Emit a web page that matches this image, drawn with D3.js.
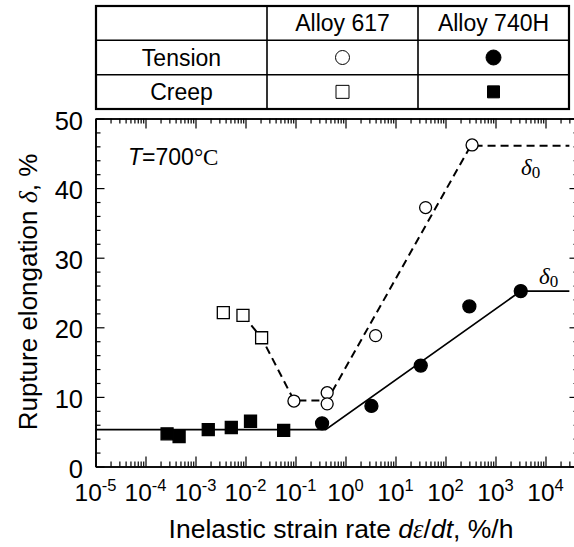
<!DOCTYPE html>
<html><head><meta charset="utf-8">
<script src="https://cdn.jsdelivr.net/npm/d3@7"></script>
<style>body{margin:0;background:#fff}svg{display:block}</style>
</head><body>
<svg id="c" width="574" height="547"></svg>
<script>
// ---- data ----
const xTickExps = [-5,-4,-3,-2,-1,0,1,2,3,4];
const yTicks = [0,10,20,30,40,50];
const creep617Rate = [3.6e-3, 8.9e-3, 2.1e-2];
const creep617Elong = [22.1, 21.7, 18.5];
const tension617Rate = [9.3e-2, 0.43, 0.43, 4.0, 40, 340];
const tension617Elong = [9.4, 10.6, 9.0, 18.8, 37.2, 46.2];
const creep740Rate = [2.7e-4, 4.7e-4, 1.8e-3, 5.2e-3, 1.26e-2, 5.8e-2];
const creep740Elong = [4.7, 4.3, 5.3, 5.6, 6.5, 5.2];
const tension740Rate = [0.34, 3.3, 32, 300, 3200];
const tension740Elong = [6.2, 8.7, 14.5, 23.0, 25.2];
const fit617Rate = [8.9e-3, 2.1e-2, 9.3e-2, 0.43, 320, 3e4];
const fit617Elong = [21.7, 18.5, 9.5, 9.5, 46.1, 46.1];
const fit740Rate = [1e-5, 0.4, 3200, 3e4];
const fit740Elong = [5.3, 5.3, 25.2, 25.2];
const tableCols = ["Alloy 617", "Alloy 740H"];
const tableRows = ["Tension", "Creep"];

const svg = d3.select("#c");
const SANS = "'Liberation Sans', Arial, sans-serif";
const SERIF = "'Liberation Serif', 'Times New Roman', serif";

const x = d3.scaleLog().domain([1e-5, Math.pow(10, 4.66)]).range([95.5, 578.5]);
const y = d3.scaleLinear().domain([0, 50]).range([466.5, 118.5]);

const xMinor = [];
for (let e = -5; e <= 4; e++) for (let m = 2; m <= 9; m++) xMinor.push(m * Math.pow(10, e));
const xMajor = xTickExps.map(e => Math.pow(10, e));
const yMinor = d3.range(0, 51, 2).filter(v => v % 10 !== 0);

const g = svg.append("g");
function styleAxis(sel){
  sel.selectAll("path.domain").attr("stroke","#000").attr("stroke-width",1.6);
  sel.selectAll(".tick line").attr("stroke","#000").attr("stroke-width",1.2);
  sel.selectAll(".tick text").remove();
}
g.append("g").attr("transform",`translate(0,${y(0)})`)
  .call(d3.axisBottom(x).tickValues(xMajor).tickSizeInner(-10).tickSizeOuter(0).tickFormat("")).call(styleAxis);
g.append("g").attr("transform",`translate(0,${y(0)})`)
  .call(d3.axisBottom(x).tickValues(xMinor).tickSizeInner(-5).tickSizeOuter(0).tickFormat("")).call(styleAxis);
g.append("g").attr("transform",`translate(0,${y(50)})`)
  .call(d3.axisTop(x).tickValues(xMajor).tickSizeInner(-10).tickSizeOuter(0).tickFormat("")).call(styleAxis);
g.append("g").attr("transform",`translate(0,${y(50)})`)
  .call(d3.axisTop(x).tickValues(xMinor).tickSizeInner(-5).tickSizeOuter(0).tickFormat("")).call(styleAxis);
g.append("g").attr("transform",`translate(${x.range()[0]},0)`)
  .call(d3.axisLeft(y).tickValues(yTicks).tickSizeInner(-9).tickSizeOuter(0).tickFormat("")).call(styleAxis);
g.append("g").attr("transform",`translate(${x.range()[0]},0)`)
  .call(d3.axisLeft(y).tickValues(yMinor).tickSizeInner(-5).tickSizeOuter(0).tickFormat("")).call(styleAxis);
g.append("g").attr("transform",`translate(${x.range()[1]},0)`)
  .call(d3.axisRight(y).tickValues(yTicks).tickSizeInner(-9).tickSizeOuter(0).tickFormat("")).call(styleAxis);
g.append("g").attr("transform",`translate(${x.range()[1]},0)`)
  .call(d3.axisRight(y).tickValues(yMinor).tickSizeInner(-5).tickSizeOuter(0).tickFormat("")).call(styleAxis);

// tick labels
const xl = svg.append("g").attr("font-family",SANS).attr("fill","#000");
xTickExps.forEach(e => {
  const t = xl.append("text").attr("x", x(Math.pow(10,e))).attr("y", y(0)+34)
    .attr("text-anchor","middle").attr("font-size",24.5);
  t.append("tspan").text("10");
  t.append("tspan").attr("dy",-10).attr("font-size",16.5).text(String(e));
});
yTicks.forEach(v => {
  xl.append("text").attr("x", 83).attr("y", y(v)+11).attr("text-anchor","end")
    .attr("font-size",25.5).text(v);
});

// axis titles
const xt = svg.append("text").attr("x", 341).attr("y", 538).attr("text-anchor","middle")
  .attr("font-family",SANS).attr("font-size",26.5);
xt.append("tspan").text("Inelastic strain rate ");
xt.append("tspan").attr("font-style","italic").text("d");
xt.append("tspan").attr("font-family",SERIF).attr("font-style","italic").text("ε");
xt.append("tspan").text("/");
xt.append("tspan").attr("font-style","italic").text("dt");
xt.append("tspan").text(", %/h");

const yt = svg.append("text").attr("transform","translate(37,292) rotate(-90)").attr("text-anchor","middle")
  .attr("font-family",SANS).attr("font-size",26);
yt.append("tspan").text("Rupture elongation ");
yt.append("tspan").attr("font-family",SERIF).attr("font-style","italic").text("δ");
yt.append("tspan").text(", %");

// T label
const tl = svg.append("text").attr("x",128).attr("y",165).attr("font-family",SANS).attr("font-size",23);
tl.append("tspan").attr("font-style","italic").text("T");
tl.append("tspan").text("=700");
tl.append("tspan").attr("font-family",SERIF).text("°C");

// fit lines
const line = d3.line().x(d => x(d[0])).y(d => y(d[1]));
svg.append("path").datum(d3.zip(fit617Rate, fit617Elong)).attr("d", line)
  .attr("fill","none").attr("stroke","#000").attr("stroke-width",2).attr("stroke-dasharray","8,5");
svg.append("path").datum(d3.zip(fit740Rate, fit740Elong)).attr("d", line)
  .attr("fill","none").attr("stroke","#000").attr("stroke-width",1.8);

// delta0 labels
function delta0(px, py){
  const t = svg.append("text").attr("x",px).attr("y",py).attr("font-family",SERIF).attr("font-size",23);
  t.append("tspan").attr("font-style","italic").text("δ");
  t.append("tspan").attr("dy",3).attr("font-size",17).text("0");
}
delta0(x(Math.pow(10,3.51)), y(41.9));
delta0(x(Math.pow(10,3.87)), y(26.2));

// markers
const sq = d3.symbol().type(d3.symbolSquare).size(144);
function pts(rates, elongs, shape, filled){
  const data = d3.zip(rates, elongs);
  const s = svg.append("g");
  if (shape === "circle") {
    s.selectAll("circle").data(data).join("circle")
      .attr("cx", d => x(d[0])).attr("cy", d => y(d[1])).attr("r", filled ? 6.5 : 6)
      .attr("fill", filled ? "#000" : "#fff").attr("stroke","#000").attr("stroke-width",1.3);
  } else {
    s.selectAll("path").data(data).join("path").attr("d", sq)
      .attr("transform", d => `translate(${x(d[0])},${y(d[1])})`)
      .attr("fill", filled ? "#000" : "#fff").attr("stroke","#000").attr("stroke-width",1.3);
  }
}
pts(creep617Rate, creep617Elong, "square", false);
pts(tension617Rate, tension617Elong, "circle", false);
pts(creep740Rate, creep740Elong, "square", true);
pts(tension740Rate, tension740Elong, "circle", true);

// table
const tb = svg.append("g");
const colX = [96, 267, 418, 569];
const rowY = [6, 40.3, 74.7, 109];
tb.append("rect").attr("x",colX[0]).attr("y",rowY[0]).attr("width",colX[3]-colX[0]).attr("height",rowY[3]-rowY[0])
  .attr("fill","#fff").attr("stroke","#000").attr("stroke-width",2.2);
[1,2].forEach(i => tb.append("line").attr("x1",colX[i]).attr("x2",colX[i]).attr("y1",rowY[0]).attr("y2",rowY[3])
  .attr("stroke","#000").attr("stroke-width",1.6));
[1,2].forEach(i => tb.append("line").attr("x1",colX[0]).attr("x2",colX[3]).attr("y1",rowY[i]).attr("y2",rowY[i])
  .attr("stroke","#000").attr("stroke-width",1.6));
tableCols.forEach((c,i) => tb.append("text").attr("x",(colX[i+1]+colX[i+2])/2).attr("y",(rowY[0]+rowY[1])/2+8)
  .attr("text-anchor","middle").attr("font-family",SANS).attr("font-size",23).text(c));
tableRows.forEach((r,i) => tb.append("text").attr("x",(colX[0]+colX[1])/2).attr("y",(rowY[i+1]+rowY[i+2])/2+8)
  .attr("text-anchor","middle").attr("font-family",SANS).attr("font-size",23).text(r));
[[0,0,"circle",false],[0,1,"circle",true],[1,0,"square",false],[1,1,"square",true]].forEach(([r,c,shape,filled]) => {
  const cx = (colX[c+1]+colX[c+2])/2, cy = (rowY[r+1]+rowY[r+2])/2;
  if (shape === "circle") tb.append("circle").attr("cx",cx).attr("cy",cy).attr("r",filled?7.5:7)
    .attr("fill",filled?"#000":"#fff").attr("stroke","#000").attr("stroke-width",1);
  else tb.append("path").attr("d", d3.symbol().type(d3.symbolSquare).size(filled?144:169)())
    .attr("transform",`translate(${cx},${cy})`).attr("fill",filled?"#000":"#fff").attr("stroke","#000").attr("stroke-width",1);
});
</script>
</body></html>
